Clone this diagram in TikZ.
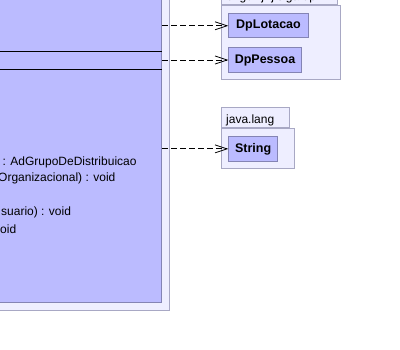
\documentclass[tikz,border=0pt]{standalone}
\usepackage{fontspec}
\setmainfont{Liberation Sans}
\usepackage{tikz}
\usetikzlibrary{arrows.meta,positioning}
\definecolor{umlClassFill}{HTML}{BBBBFF}
\definecolor{umlClassLine}{HTML}{8484B4}
\definecolor{umlPkgFill}{HTML}{EEEEFF}
\definecolor{umlPkgLine}{HTML}{A8A8C4}
\tikzset{
  class box/.style={draw=umlClassLine, fill=umlClassFill, line width=1pt,
    inner sep=0pt},
  class name/.style={class box, anchor=north west,
    font=\fontsize{12.5}{14}\selectfont\bfseries},
  pkg body/.style={draw=umlPkgLine, fill=umlPkgFill, line width=1pt,
    inner sep=0pt},
  pkg tab/.style={pkg body, anchor=south west, align=left,
    inner xsep=5pt, inner ysep=4pt, text height=12.5pt, text depth=0pt,
    font=\fontsize{12}{14}\selectfont},
  member/.style={anchor=west, inner sep=0pt,
    font=\fontsize{12}{14}\selectfont},
  uses/.style={-{Straight Barb[length=12pt,width=8pt]}, line width=0.8pt,
    dash pattern=on 6pt off 3pt}
}

\begin{document}
\begin{tikzpicture}[x=1pt, y=-1pt, node distance=10pt]
  \useasboundingbox (0,0) rectangle (400,349);
  \clip (0,0) rectangle (400,349);
  % package around the main class, cut by the page edge
  \node[pkg body, anchor=south east, minimum width=200pt,
    minimum height=340pt] (pkgMain) at (170,311) {};
  \node[class box, anchor=south east, minimum width=190pt,
    minimum height=330pt] (cls) at (162,303) {};
  \draw[line width=1pt] (cls.west |- 0,51) -- (cls.east |- 0,51);
  \draw[line width=1pt] (cls.west |- 0,69) -- (cls.east |- 0,69);
  \node[member] (op1) at (2.5,162) {: AdGrupoDeDistribuicao};
  \node[member] (op2) at (-2,178) {Organizacional) : void};
  \node[member] (op3) at (1,212) {suario) : void};
  \node[member] (op4) at (0,229) {oid};

  % br.gov.jfrj.siga.dp
  \node[pkg tab, text width=106pt] (tabDp) at (220.7,5)
    {br.gov.jfrj.siga.dp};
  \node[pkg body, anchor=north west, minimum width=119pt,
    minimum height=74pt] (pkgDp) at (220.7,5) {};
  \node[class name, minimum width=79.4pt, minimum height=24pt] (lot)
    at (228.3,13.3) {DpLotacao};
  \node[class name, minimum width=72.4pt, minimum height=24.4pt] (pes)
    at (228.3,47.3) {DpPessoa};

  % java.lang
  \node[pkg tab, text width=58.6pt] (tabLang) at (220.7,128.3)
    {java.lang};
  \node[pkg body, anchor=north west, minimum width=73pt,
    minimum height=40pt] (pkgLang) at (220.7,128.3) {};
  \node[class name, minimum width=48.7pt, minimum height=24.7pt] (str)
    at (228.3,136) {String};

  \draw[uses] (cls.east |- lot.west) -- (lot.west);
  \draw[uses] (cls.east |- pes.west) -- (pes.west);
  \draw[uses] (cls.east |- str.west) -- (str.west);
\end{tikzpicture}
\end{document}
